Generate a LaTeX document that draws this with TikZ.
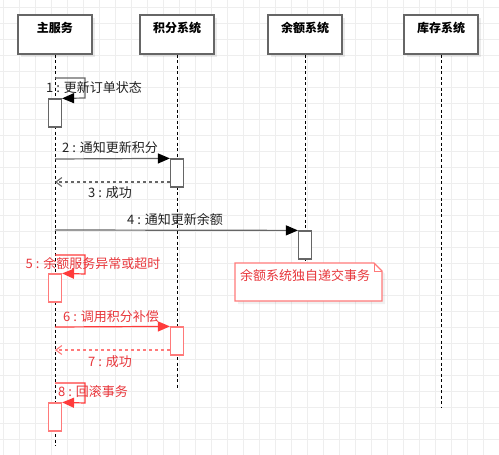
\documentclass[tikz,border=0pt]{standalone}
\usepackage{fontspec}
\setmainfont{Noto Sans CJK SC}
\usetikzlibrary{arrows.meta}
\definecolor{gridc}{HTML}{EEEEEE}
\definecolor{linec}{HTML}{666666}
\definecolor{redl}{HTML}{FF3B3B}
\definecolor{redb}{HTML}{FF7A7A}
\definecolor{redt}{HTML}{E8363B}
\definecolor{txt}{HTML}{222222}
\tikzset{
  hdr/.style={draw=linec, line width=1.4pt, fill=white, minimum width=74pt, minimum height=39pt, inner sep=0pt},
  hdrtxt/.style={font=\fontsize{12}{12}\selectfont\bfseries, text=black, inner sep=0pt},
  life/.style={draw=black, line width=0.8pt, dash pattern=on 3pt off 2.5pt},
  act/.style={draw=linec, line width=1.2pt, fill=white, minimum width=13pt, inner sep=0pt},
  ract/.style={draw=redb, line width=1.2pt, fill=white, minimum width=13pt, inner sep=0pt},
  msg/.style={draw=linec, line width=1.2pt, -{Triangle[length=12pt,width=10pt,color=black]}},
  rmsg/.style={draw=redl, line width=1.2pt, -{Triangle[length=12pt,width=10pt]}},
  ret/.style={draw=linec, line width=1.1pt, dash pattern=on 3pt off 3pt, -{Straight Barb[length=6pt,width=9pt]}},
  rret/.style={draw=redb, line width=1.1pt, dash pattern=on 3pt off 3pt, -{Straight Barb[length=6pt,width=9pt]}},
  lbl/.style={font=\fontsize{13}{13}\selectfont, text=txt, inner sep=0pt},
  rlbl/.style={font=\fontsize{13}{13}\selectfont, text=redt, inner sep=0pt},
  shadowbox/.style={fill=black, fill opacity=0.08}
}
\begin{document}
\begin{tikzpicture}[x=1pt,y=-1pt]
\useasboundingbox (0,0) rectangle (499,455);
\fill[white] (0,0) rectangle (499,455);
% grid
\foreach \gx in {3,19,...,499} \draw[gridc, line width=0.6pt] (\gx,0) -- (\gx,455);
\foreach \gy in {7,23,...,455} \draw[gridc, line width=0.6pt] (0,\gy) -- (499,\gy);

% header shadows
\foreach \cx in {55,177,305,441} \fill[shadowbox] (\cx-37+3,15+3) rectangle (\cx+37+3,54+3);
% headers
\node[hdr] (h1) at (55,34.5) {};
\node[hdr] (h2) at (177,34.5) {};
\node[hdr] (h3) at (305,34.5) {};
\node[hdr] (h4) at (441,34.5) {};
\node[hdrtxt] (t1) at (55,28) {主服务};
\node[hdrtxt] (t2) at (177,28) {积分系统};
\node[hdrtxt] (t3) at (305,28) {余额系统};
\node[hdrtxt] (t4) at (441,28) {库存系统};

% lifeline ends
\coordinate (e1) at (55,446);
\coordinate (e2) at (177,388);
\coordinate (e3) at (305,263);
\coordinate (e4) at (441,407);
\draw[life] (h1.south) -- (e1);
\draw[life] (h2.south) -- (e2);
\draw[life] (h3.south) -- (e3);
\draw[life] (h4.south) -- (e4);

% activations
\node[act, minimum height=28pt] (a1) at (55,113) {};
\node[act, minimum height=28pt] (b1) at (177,173) {};
\node[act, minimum height=28pt] (c1) at (305,245) {};
\node[ract, minimum height=28pt] (a2) at (55,288) {};
\node[ract, minimum height=28pt] (b2) at (177,341) {};
\node[ract, minimum height=28pt] (a3) at (55,417) {};

% message 1 (self call)
\coordinate (m1s) at (55,78);
\draw[msg] (m1s) -- ++(30,0) -- ++(0,20) -- (a1.north east);
\node[lbl] (l1) at (94,88) {1 : 更新订单状态};

% message 2
\coordinate (m2s) at (55,159);
\draw[msg] (m2s) -- (b1.north west);
\node[lbl] (l2) at (110,148) {2 : 通知更新积分};

% message 3
\coordinate (m3e) at (55,182);
\draw[ret] (b1.west |- m3e) -- (m3e);
\node[lbl] (l3) at (110,193) {3 : 成功};

% message 4
\coordinate (m4s) at (55,230);
\draw[msg] (m4s) -- (c1.north west);
\node[lbl] (l4) at (175,220) {4 : 通知更新余额};

% note
\fill[black, opacity=0.06] (238,266) -- (377,266) -- (385,274) -- (385,304) -- (238,304) -- cycle;
\draw[draw=redb, line width=1.2pt, fill=white] (235,263) -- (374,263) -- (382,271) -- (382,301) -- (235,301) -- cycle;
\draw[draw=redb, line width=0.8pt] (374,263) -- (374,271) -- (382,271);
\node[rlbl, anchor=west] (nt) at (240,276) {余额系统独自递交事务};

% message 5 (self call)
\coordinate (m5s) at (55,255);
\draw[rmsg] (m5s) -- ++(30,0) -- ++(0,19) -- (a2.north east);
\node[rlbl] (l5) at (93,264) {5 : 余额服务异常或超时};

% message 6
\coordinate (m6s) at (55,327);
\draw[rmsg] (m6s) -- (b2.north west);
\node[rlbl] (l6) at (111,317) {6 : 调用积分补偿};

% message 7
\coordinate (m7e) at (55,350);
\draw[rret] (b2.west |- m7e) -- (m7e);
\node[rlbl] (l7) at (110,362) {7 : 成功};

% message 8 (self call)
\coordinate (m8s) at (55,383);
\draw[rmsg] (m8s) -- ++(30,0) -- ++(0,20) -- (a3.north east);
\node[rlbl] (l8) at (93,392) {8 : 回滚事务};
\end{tikzpicture}
\end{document}
